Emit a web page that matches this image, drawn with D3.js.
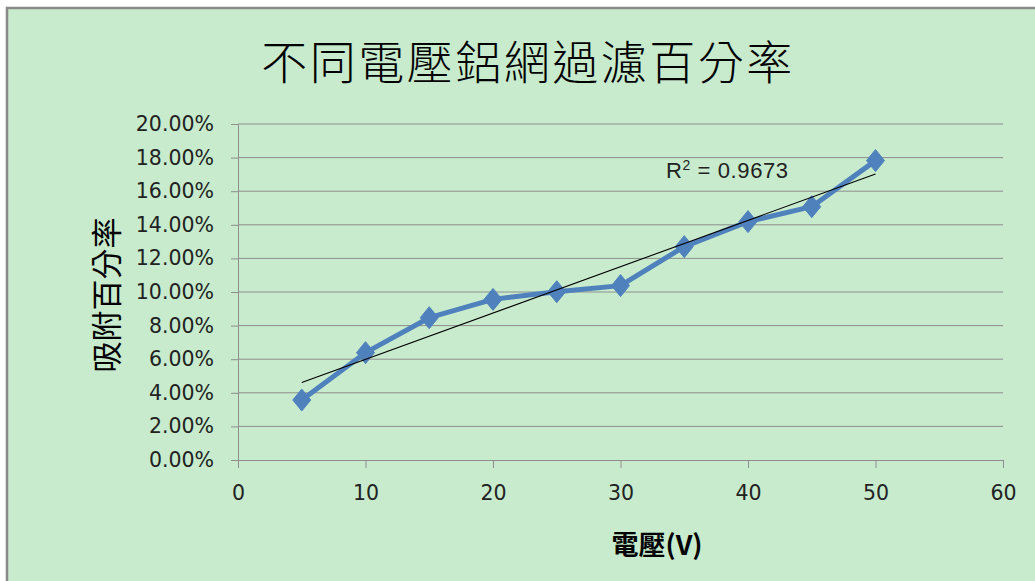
<!DOCTYPE html>
<html>
<head>
<meta charset="utf-8">
<script src="https://cdn.jsdelivr.net/npm/d3@7"></script>
<style>
  html, body { margin: 0; padding: 0; background: #ffffff; }
  svg { display: block; }
</style>
</head>
<body>
<svg id="chart" width="1035" height="581"></svg>
<script>
// Voltage applied to the aluminium mesh (V)
const voltages = [5, 10, 15, 20, 25, 30, 35, 40, 45, 50];
// Adsorption percentage at each voltage (%)
const adsorption = [3.57, 6.39, 8.47, 9.56, 10.02, 10.38, 12.70, 14.19, 15.08, 17.82];
const xTicks = [0, 10, 20, 30, 40, 50, 60];
const yTicks = [0, 2, 4, 6, 8, 10, 12, 14, 16, 18, 20];
const titleText = "不同電壓鋁網過濾百分率";
const yTitle = "吸附百分率";
const xTitle = "電壓(V)";

const svg = d3.select("#chart");
const W = 1035, H = 581;
const bg = "#C7EBCC";
const gridColor = "#8E8E8E";
const blue = "#4F81BD";
const tickFont = "'DejaVu Sans', Verdana, sans-serif";

// chart area background with grey frame
svg.append("rect").attr("x", 7).attr("y", 8).attr("width", W).attr("height", H)
  .attr("fill", bg).attr("stroke", "#8A8A8A").attr("stroke-width", 2.5);

const plot = { left: 238, right: 1003, top: 124, bottom: 460 };
const x = d3.scaleLinear().domain([0, 60]).range([plot.left, plot.right]);
const y = d3.scaleLinear().domain([0, 20]).range([plot.bottom, plot.top]);

// horizontal gridlines
svg.append("g").selectAll("line").data(yTicks.filter(d => d > 0)).join("line")
  .attr("x1", plot.left).attr("x2", plot.right)
  .attr("y1", d => y(d)).attr("y2", d => y(d))
  .attr("stroke", gridColor).attr("stroke-width", 1);

// y axis
const yAxis = svg.append("g").attr("transform", `translate(${plot.left},0)`)
  .call(d3.axisLeft(y).tickValues(yTicks).tickSize(7).tickSizeOuter(0)
    .tickFormat(d => d.toFixed(2) + "%"));
yAxis.select(".domain").attr("stroke", gridColor);
yAxis.selectAll(".tick line").attr("stroke", gridColor);
yAxis.selectAll(".tick text").attr("x", -24).attr("fill", "#222")
  .style("font-family", tickFont).style("font-size", "20.5px");

// x axis
const xAxis = svg.append("g").attr("transform", `translate(0,${plot.bottom})`)
  .call(d3.axisBottom(x).tickValues(xTicks).tickSize(8).tickSizeOuter(0));
xAxis.select(".domain").attr("stroke", gridColor);
xAxis.selectAll(".tick text").attr("y", 25).attr("fill", "#222")
  .style("font-family", tickFont).style("font-size", "20.5px");
xAxis.selectAll(".tick line").attr("stroke", gridColor);

// linear trendline (least squares)
const n = voltages.length;
const mx = d3.mean(voltages), my = d3.mean(adsorption);
let sxy = 0, sxx = 0;
for (let i = 0; i < n; i++) {
  sxy += (voltages[i] - mx) * (adsorption[i] - my);
  sxx += (voltages[i] - mx) ** 2;
}
const slope = sxy / sxx, intercept = my - slope * mx;
const xmin = d3.min(voltages), xmax = d3.max(voltages);

// data line
const pts = voltages.map((v, i) => [v, adsorption[i]]);
svg.append("path").datum(pts)
  .attr("fill", "none").attr("stroke", blue).attr("stroke-width", 5)
  .attr("stroke-linejoin", "round")
  .attr("d", d3.line().x(d => x(d[0])).y(d => y(d[1])));

// diamond markers
svg.append("g").selectAll("path").data(pts).join("path")
  .attr("transform", d => `translate(${x(d[0])},${y(d[1])})`)
  .attr("d", "M0,-11L9,0L0,11L-9,0Z")
  .attr("fill", blue).attr("stroke", blue).attr("stroke-width", 1);

svg.append("line")
  .attr("x1", x(xmin)).attr("y1", y(intercept + slope * xmin))
  .attr("x2", x(xmax)).attr("y2", y(intercept + slope * xmax))
  .attr("stroke", "#000").attr("stroke-width", 1.1);

// R² annotation
const r2 = svg.append("text").attr("x", 666).attr("y", 178)
  .attr("fill", "#222")
  .style("font-family", "'Liberation Sans', Arial, sans-serif")
  .style("font-size", "22px").style("letter-spacing", "0.6px");
r2.append("tspan").text("R");
r2.append("tspan").text("2").attr("dy", -8).style("font-size", "14px");
r2.append("tspan").text(" = 0.9673").attr("dy", 8);

// title
svg.append("text").attr("x", 528).attr("y", 79).attr("text-anchor", "middle")
  .attr("fill", "#000")
  .style("font-family", "'Noto Sans CJK TC', sans-serif").style("font-weight", 300)
  .style("font-size", "46px").style("letter-spacing", "2.5px")
  .text(titleText);

// y axis title
svg.append("text").attr("transform", "translate(118,295) rotate(-90)")
  .attr("text-anchor", "middle").attr("fill", "#000")
  .style("font-family", "'Noto Sans CJK TC', sans-serif")
  .style("font-size", "31px")
  .text(yTitle);

// x axis title
svg.append("text").attr("x", 657).attr("y", 555).attr("text-anchor", "middle")
  .attr("fill", "#000")
  .style("font-family", "'Noto Sans CJK TC', sans-serif").style("font-weight", 700)
  .style("font-size", "27px")
  .text(xTitle);
</script>
</body>
</html>
